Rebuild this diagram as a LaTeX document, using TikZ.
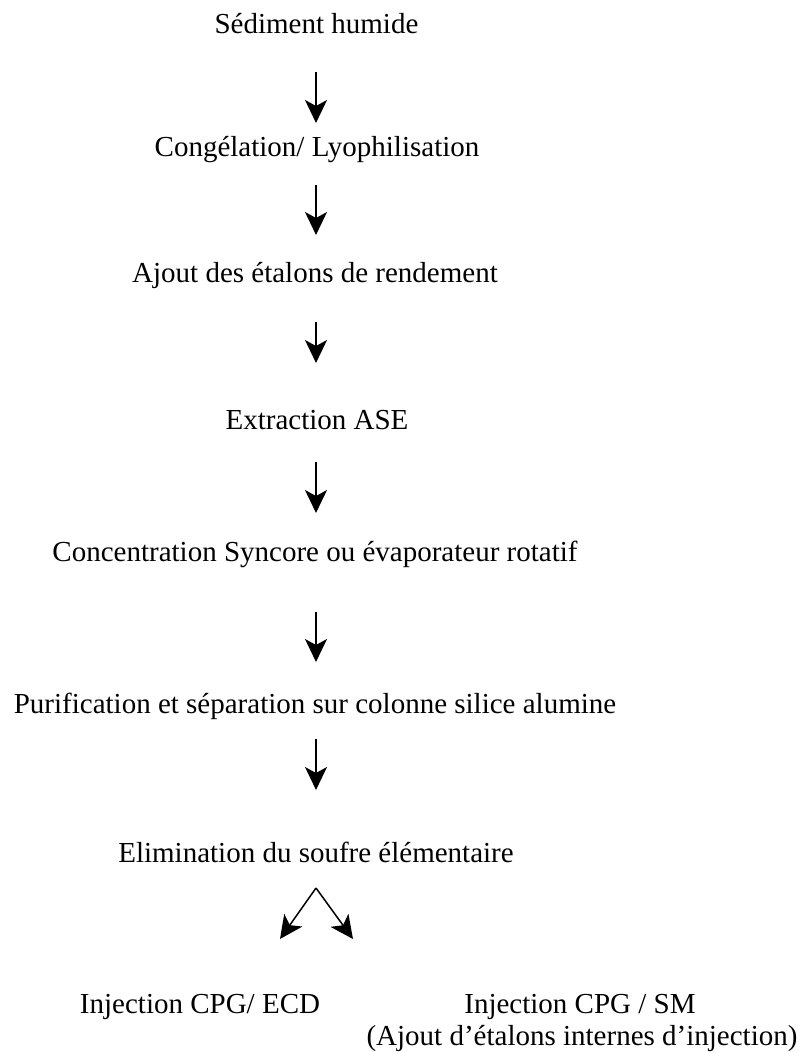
\documentclass[tikz,border=0pt]{standalone}
\usepackage{fontspec}
\setmainfont{Liberation Serif}
\usetikzlibrary{arrows.meta}
\begin{document}
\begin{tikzpicture}[x=1pt,y=-1pt,
  lbl/.style={anchor=base,inner sep=0pt,font=\fontsize{29}{33}\selectfont},
  arr/.style={line width=1.5pt,-{Stealth[length=23pt,width=22pt,inset=6pt]}}]
\useasboundingbox (0,0) rectangle (803,1052);
\fill[white] (0,0) rectangle (803,1052);
% labels
\node[lbl] (t1) at (316.5,33) {Sédiment humide};
\node[lbl] (t2) at (317,156) {Congélation/ Lyophilisation};
\node[lbl] (t3) at (315,282) {Ajout des étalons de rendement};
\node[lbl] (t4) at (317,429) {Extraction ASE};
\node[lbl] (t5) at (315,561) {Concentration Syncore ou évaporateur rotatif};
\node[lbl] (t6) at (315,713) {Purification et séparation sur colonne silice alumine};
\node[lbl] (t7) at (316,862) {Elimination du soufre élémentaire};
\node[lbl] (t8) at (200,1013) {Injection CPG/ ECD};
\node[lbl] (t9) at (580,1013) {Injection CPG / SM};
\node[lbl] (t10) at (582,1045) {(Ajout d’étalons internes d’injection)};
% arrow end points
\coordinate (a1s) at (316,72);  \coordinate (a1e) at (316,123);
\coordinate (a2s) at (316,185); \coordinate (a2e) at (316,235);
\coordinate (a3s) at (316,322); \coordinate (a3e) at (316,363);
\coordinate (a4s) at (316,462); \coordinate (a4e) at (316,513);
\coordinate (a5s) at (316,612); \coordinate (a5e) at (316,662);
\coordinate (a6s) at (316,739); \coordinate (a6e) at (316,790);
\coordinate (fk) at (316,888);
\coordinate (fl) at (280,939);
\coordinate (fr) at (353,939);
% arrows
\draw[arr] (a1s) -- (a1e);
\draw[arr] (a2s) -- (a2e);
\draw[arr] (a3s) -- (a3e);
\draw[arr] (a4s) -- (a4e);
\draw[arr] (a5s) -- (a5e);
\draw[arr] (a6s) -- (a6e);
\draw[arr] (fk) -- (fl);
\draw[arr] (fk) -- (fr);
\end{tikzpicture}
\end{document}
